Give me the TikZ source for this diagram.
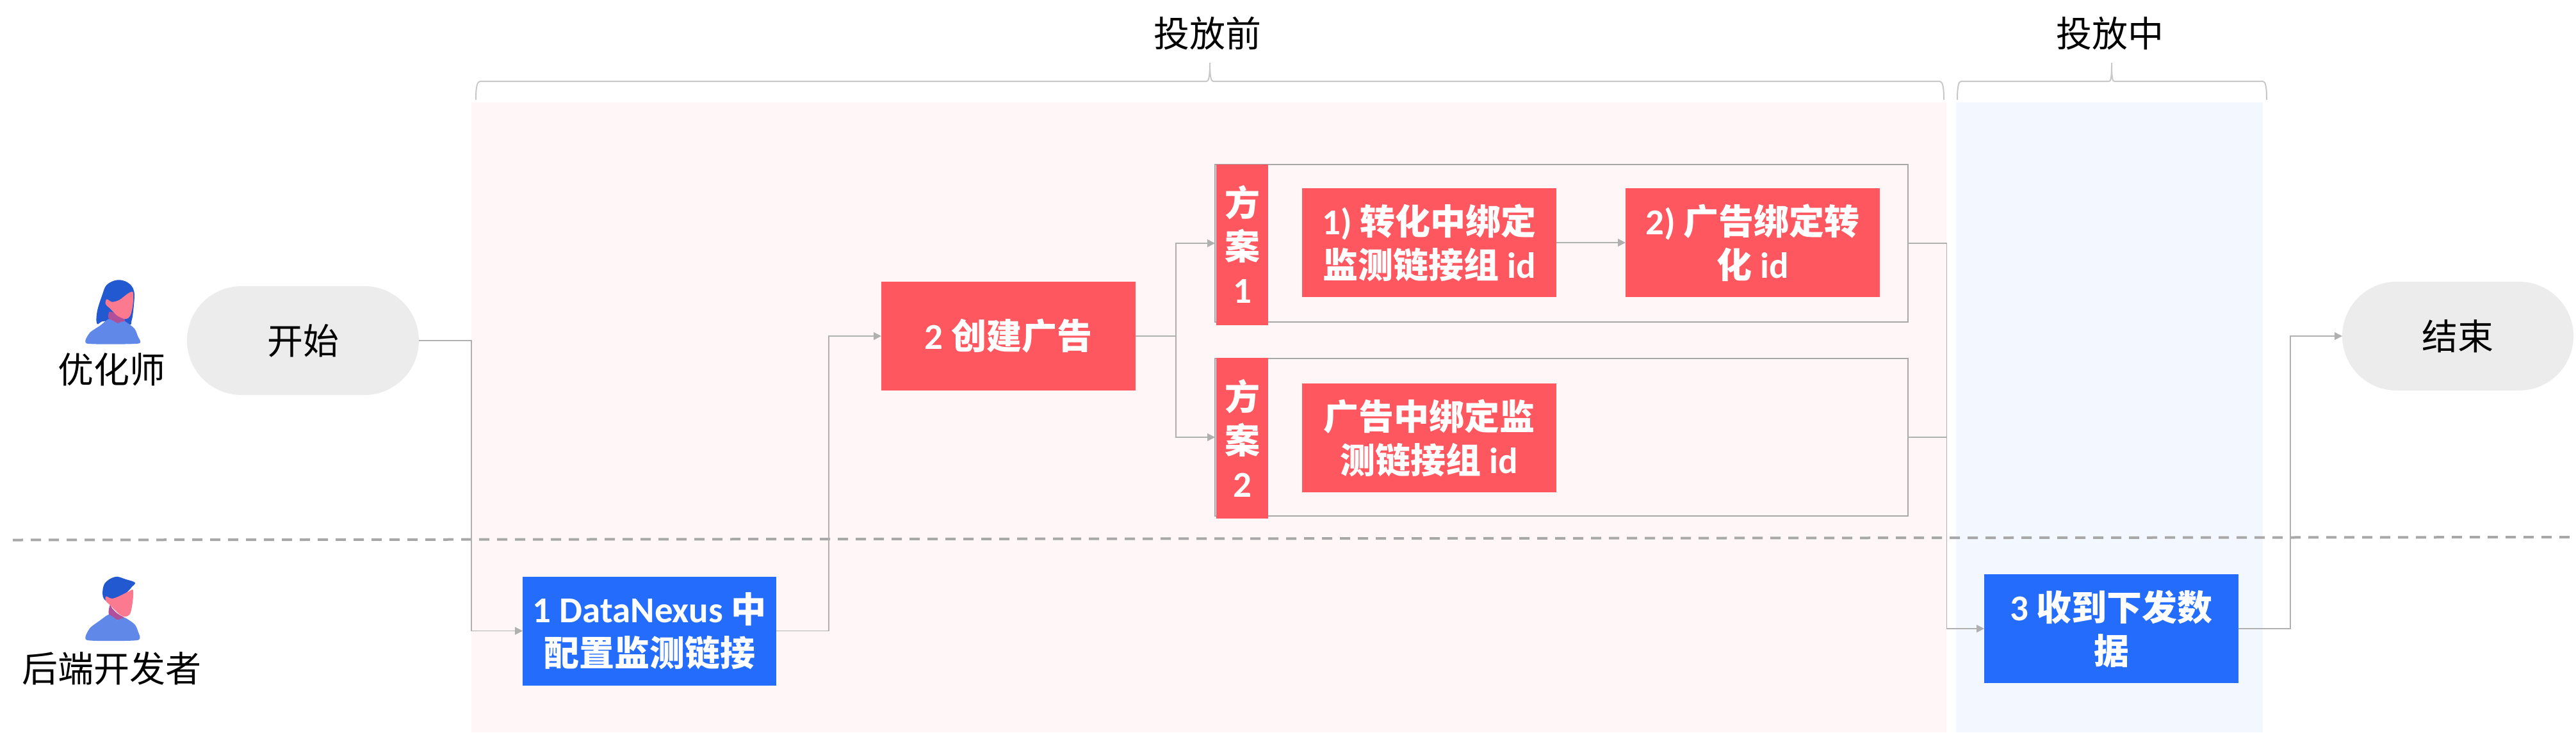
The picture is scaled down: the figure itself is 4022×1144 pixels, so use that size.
\documentclass[tikz,border=0pt]{standalone}
\usepackage{fontspec}
\setmainfont{Noto Sans CJK SC}
\newfontfamily\latfont{Carlito}
\newcommand{\lat}[1]{{\latfont\fontsize{57}{68}\selectfont\bfseries #1}}
\usetikzlibrary{arrows.meta}
\definecolor{cred}{HTML}{FF5760}
\definecolor{cblue}{HTML}{246CFB}
\definecolor{pinkbg}{HTML}{FFF7F7}
\definecolor{bluebg}{HTML}{F3F7FF}
\definecolor{pillgray}{HTML}{ECECEC}
\definecolor{linegray}{HTML}{B0B0B0}
\definecolor{framegray}{HTML}{A8A8A8}
\definecolor{bracegray}{HTML}{C8C8C8}
\definecolor{hair}{HTML}{2359D0}
\definecolor{bodyc}{HTML}{6088E8}
\definecolor{facec}{HTML}{FC7A8F}
\definecolor{neckc}{HTML}{B0509A}
\tikzset{
  x=1pt,y=-1pt,
  every node/.style={inner sep=0pt,outer sep=0pt,align=center,font=\fontsize{56}{68}\selectfont},
  pill/.style={fill=pillgray,rounded corners=85pt,minimum height=170pt},
  redbox/.style={fill=cred,text=white,font=\fontsize{55}{68}\selectfont\bfseries,minimum width=397pt,minimum height=170pt},
  bluebox/.style={redbox,fill=cblue},
  barbox/.style={fill=cred,text=white,font=\fontsize{55}{68}\selectfont\bfseries,minimum width=81pt,minimum height=251pt},
  groupbox/.style={draw=framegray,line width=2.2pt,minimum width=1082pt,minimum height=246pt},
  conn/.style={draw=linegray,line width=1.4pt},
  arr/.style={conn,-{Triangle[length=12pt,width=12pt]}},
  bracec/.style={draw=bracegray,line width=2pt},
  labeltext/.style={text=black}
}
\begin{document}
\begin{tikzpicture}
\useasboundingbox (0,0) rectangle (4022,1144);
% backgrounds
\fill[pinkbg] (736,160) rectangle (3039,1144);
\fill[bluebg] (3054,160) rectangle (3533,1144);
% braces
\draw[bracec] (743,156) .. controls (743,135) and (745,127) .. (750,127) -- (1884,127) .. controls (1887,127) and (1889,120) .. (1889,98) .. controls (1889,120) and (1891,127) .. (1894,127) -- (3028,127) .. controls (3033,127) and (3035,135) .. (3035,156);
\draw[bracec] (3056,156) .. controls (3056,135) and (3058,127) .. (3062,127) -- (3293,127) .. controls (3296,127) and (3297,120) .. (3297,98) .. controls (3297,120) and (3298,127) .. (3301,127) -- (3533,127) .. controls (3537,127) and (3539,135) .. (3539,156);
% swimlane divider
\draw[framegray,line width=4pt,dash pattern=on 16pt off 12pt] (20,843.5) -- (4012,839);
% nodes
\node[labeltext] (before) at (1885,52) {投放前};
\node[labeltext] (during) at (3294,52) {投放中};
\node[labeltext] (roleA) at (174,577) {优化师};
\node[labeltext] (roleB) at (174,1044) {后端开发者};
\node[pill,minimum width=362pt] (start) at (473,532) {\raisebox{-3pt}{开始}};
\node[pill,minimum width=361pt] (end) at (3837.5,525) {结束};
\node[bluebox,minimum width=396pt] (s1) at (1014,985.5) {\lat{1 DataNexus} 中\\配置监测链接};
\node[redbox] (s2) at (1574.5,525) {\lat{2} 创建广告};
\node[groupbox] (g1) at (2438,380) {};
\node[groupbox] (g2) at (2438,683) {};
\node[barbox] (b1) at (1939.5,382) {方\\案\\\lat{1}};
\node[barbox] (b2) at (1939.5,684.5) {方\\案\\\lat{2}};
\node[redbox] (p1) at (2231.5,379) {\lat{1)} 转化中绑定\\监测链接组 \lat{id}};
\node[redbox] (p2) at (2736.5,379) {\lat{2)} 广告绑定转\\化 \lat{id}};
\node[redbox] (p3) at (2231.5,684) {广告中绑定监\\测链接组 \lat{id}};
\node[bluebox,minimum width=397pt] (s3) at (3296.5,982) {\lat{3} 收到下发数\\据};
% routing columns
\coordinate (busA) at (736,760);
\coordinate (busB) at (1294,760);
\coordinate (busC) at (1836,525);
\coordinate (busD) at (3039.5,800);
\coordinate (busE) at (3576,760);
% connectors
\draw[arr] (start.east) -| (busA) |- (s1.west);
\draw[arr] (s1.east) -| (busB) |- (s2.west);
\draw[arr] (s2.east) -| (busC) |- (g1.west);
\draw[arr] (s2.east) -| (busC) |- (g2.west);
\draw[arr] (p1.east) -- (p2.west);
\draw[arr] (g1.east) -| (busD) |- (s3.west);
\draw[conn] (g2.east) -| (busD);
\draw[arr] (s3.east) -| (busE) |- (end.west);
% woman icon
\begin{scope}[shift={(120,430)},x=0.3333pt,y=-0.3333pt]
\fill[hair] plot[smooth cycle,tension=0.6] coordinates {(95,228)(95,170)(118,95)(140,45)(190,22)(240,35)(268,75)(266,150)(256,215)(240,232)(130,215)};
\fill[neckc] plot[smooth cycle,tension=0.5] coordinates {(155,170)(150,205)(190,224)(225,216)(215,198)};
\fill[bodyc] plot[smooth cycle,tension=0.35] coordinates {(48,320)(60,270)(110,235)(150,205)(190,224)(225,216)(270,250)(285,285)(288,320)};
\fill[facec] plot[smooth cycle,tension=0.5] coordinates {(263,80)(262,140)(250,190)(228,205)(190,190)(160,160)(135,135)(140,112)(165,125)(200,115)(240,85)};
\end{scope}
% man icon
\begin{scope}[shift={(120,895)},x=0.3333pt,y=-0.3333pt]
\fill[hair] plot[smooth cycle,tension=0.6] coordinates {(122,110)(130,50)(180,18)(230,30)(272,45)(258,65)(235,90)(200,115)(150,135)};
\fill[neckc] plot[smooth cycle,tension=0.5] coordinates {(155,150)(150,195)(190,220)(225,212)(190,190)(165,165)};
\fill[bodyc] plot[smooth cycle,tension=0.35] coordinates {(48,315)(60,260)(105,225)(150,195)(190,220)(225,210)(270,240)(285,270)(285,315)};
\fill[facec] plot[smooth cycle,tension=0.5] coordinates {(263,80)(262,130)(250,190)(225,205)(195,190)(160,155)(135,130)(137,110)(165,120)(200,108)(240,88)};
\end{scope}
\end{tikzpicture}
\end{document}
